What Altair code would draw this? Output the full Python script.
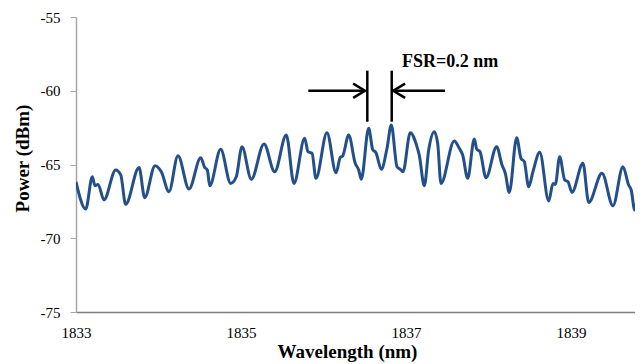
import altair as alt
import pandas as pd

# Traced spectrum
wavelength = [1833.0, 1833.118, 1833.198, 1833.230, 1833.267, 1833.339, 1833.481, 1833.542, 1833.602,
              1833.764, 1833.833, 1833.958, 1834.034, 1834.127, 1834.236, 1834.370, 1834.512, 1834.560,
              1834.592, 1834.621, 1834.754, 1834.875, 1834.943, 1835.012, 1835.125, 1835.279, 1835.408,
              1835.549, 1835.642, 1835.772, 1835.812, 1835.861, 1835.909, 1836.042, 1836.152, 1836.204,
              1836.233, 1836.305, 1836.385, 1836.427, 1836.458, 1836.548, 1836.596, 1836.636, 1836.701,
              1836.770, 1836.822, 1836.891, 1836.931, 1836.964, 1837.052, 1837.133, 1837.161, 1837.222,
              1837.275, 1837.343, 1837.384, 1837.424, 1837.585, 1837.646, 1837.687, 1837.748, 1837.828,
              1837.857, 1837.897, 1837.970, 1838.099, 1838.164, 1838.204, 1838.252, 1838.342, 1838.394,
              1838.434, 1838.487, 1838.539, 1838.621, 1838.730, 1838.782, 1838.810, 1838.863, 1838.924,
              1838.964, 1839.012, 1839.145, 1839.215, 1839.376, 1839.509, 1839.630, 1839.699, 1839.730,
              1839.772, 1839.833, 1839.873]
power = [-66.17, -68.02, -65.83, -66.44, -66.35, -67.40, -65.37, -65.70, -67.70,
         -65.20, -67.25, -65.08, -65.49, -66.84, -64.40, -66.66, -64.54, -65.20,
         -65.37, -66.44, -63.97, -66.28, -65.83, -63.79, -66.00, -63.61, -65.49,
         -63.00, -66.28, -63.22, -64.13, -64.24, -65.94, -62.84, -65.56, -64.51,
         -64.42, -63.00, -64.92, -65.37, -66.00, -62.55, -63.97, -64.20, -65.33,
         -63.90, -62.32, -65.15, -65.33, -65.49, -62.84, -63.79, -64.36, -66.44,
         -64.02, -62.78, -63.56, -66.28, -63.41, -63.90, -64.36, -65.94, -63.27,
         -63.95, -64.13, -65.90, -63.79, -65.03, -65.60, -66.89, -63.18, -64.58,
         -64.81, -66.50, -65.49, -64.17, -67.47, -66.28, -66.35, -64.47, -66.05,
         -66.17, -66.89, -64.92, -67.57, -65.60, -67.80, -65.15, -66.39, -66.73,
         -68.08, -66.28, -66.05]

x_ticks = [1833, 1835, 1837, 1839]
y_ticks = [-75, -70, -65, -60, -55]

# FSR annotation (data coordinates)
bar_x = [1836.531, 1836.827]
bar_y = [-58.64, -62.10]
arrow_x_start = [1835.816, 1837.473]
arrow_x_end = [1836.503, 1836.846]
arrow_y = -60.0
label_text = "FSR=0.2 nm"
label_x = 1836.952
label_y = -58.05

SERIF = "Liberation Serif"
X_DOMAIN = [1833, 1839.776]
Y_DOMAIN = [-75, -55]

def X(field):
    return alt.X(field, type="quantitative", scale=alt.Scale(domain=X_DOMAIN, nice=False, zero=False),
                 axis=alt.Axis(values=x_ticks, format="d", ticks=False, grid=False, labelPadding=13,
                               domainColor="#7f7f7f", domainWidth=1.5, labelFont=SERIF, labelFontSize=15,
                               labelColor="black", title="Wavelength (nm)", titleFont=SERIF,
                               titleFontSize=19, titleFontWeight="bold", titleColor="black",
                               titleX=271, titleY=45, titleBaseline="alphabetic", labelFlush=False),
                 title="Wavelength (nm)")

def Y(field):
    return alt.Y(field, type="quantitative", scale=alt.Scale(domain=Y_DOMAIN, nice=False, zero=False),
                 axis=alt.Axis(values=y_ticks, grid=False, tickSize=6, tickColor="#a6a6a6",
                               domainColor="#a6a6a6", domainWidth=1.5, labelPadding=10,
                               labelExpr="datum.value < 0 ? '-' + abs(datum.value) : '' + datum.value",
                               labelFont=SERIF, labelFontSize=15, labelColor="black",
                               title="Power (dBm)", titleFont=SERIF, titleFontSize=19,
                               titleFontWeight="bold", titleColor="black", titleX=-54, titleY=141,
                               titleBaseline="middle", titleAngle=-90),
                 title="Power (dBm)")

df = pd.DataFrame({"w": wavelength, "p": power})
line = alt.Chart(df).mark_line(color="#23508a", strokeWidth=3, interpolate="monotone", clip=True).encode(
    x=X("w"), y=Y("p"))

bars_df = pd.DataFrame({"x": bar_x, "y": [bar_y[0]] * 2, "y2": [bar_y[1]] * 2})
bars = alt.Chart(bars_df).mark_rule(color="black", strokeWidth=2.5).encode(
    x=X("x"), y=Y("y"), y2="y2")

arrows_df = pd.DataFrame({"x": arrow_x_start, "x2": arrow_x_end, "y": [arrow_y] * 2})
arrows = alt.Chart(arrows_df).mark_rule(color="black", strokeWidth=2.5).encode(
    x=X("x"), x2="x2", y=Y("y"))

head_r = alt.Chart(pd.DataFrame({"x": [arrow_x_end[0]], "y": [arrow_y]})).mark_point(
    shape="M-1,-0.6L0,0L-1,0.6", filled=False, stroke="black", strokeWidth=2.5, size=560, opacity=1).encode(
    x=X("x"), y=Y("y"))
head_l = alt.Chart(pd.DataFrame({"x": [arrow_x_end[1]], "y": [arrow_y]})).mark_point(
    shape="M1,-0.6L0,0L1,0.6", filled=False, stroke="black", strokeWidth=2.5, size=560, opacity=1).encode(
    x=X("x"), y=Y("y"))

label = alt.Chart(pd.DataFrame({"x": [label_x], "y": [label_y], "t": [label_text]})).mark_text(
    font=SERIF, fontSize=18, fontWeight="bold", color="black", align="left", baseline="middle").encode(
    x=X("x"), y=Y("y"), text="t:N")

chart = alt.layer(line, bars, arrows, head_r, head_l, label).properties(
    width=559, height=295,
    autosize=alt.AutoSizeParams(type="none"),
    padding={"left": 68, "top": 9, "right": 0, "bottom": 52},
).configure_view(stroke=None)

chart.save("out.html", embed_options={"renderer": "svg", "actions": False})
